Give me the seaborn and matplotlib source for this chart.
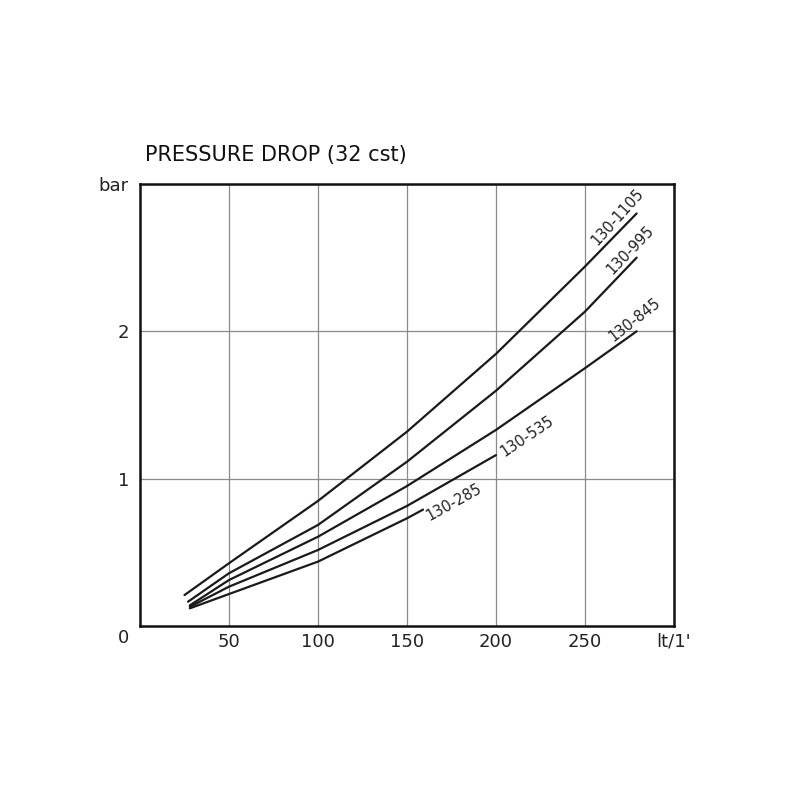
import matplotlib
matplotlib.use("Agg")
import matplotlib.pyplot as plt
import seaborn as sns

# flow (lt/1') and pressure drop (bar)
flow_1105 = [25, 50, 100, 150, 200, 250, 279]
bar_1105 = [0.21, 0.426, 0.849, 1.319, 1.847, 2.44, 2.80]

flow_995 = [27, 50, 100, 150, 200, 250, 279]
bar_995 = [0.165, 0.358, 0.686, 1.115, 1.597, 2.134, 2.50]

flow_845 = [28, 50, 100, 150, 200, 250, 279]
bar_845 = [0.14, 0.312, 0.606, 0.950, 1.331, 1.75, 2.00]

flow_535 = [28, 50, 100, 150, 200]
bar_535 = [0.13, 0.267, 0.516, 0.815, 1.16]

flow_285 = [28, 50, 100, 150, 159]
bar_285 = [0.12, 0.217, 0.437, 0.731, 0.79]

series_names = ["130-1105", "130-995", "130-845", "130-535", "130-285"]
label_pos = [(268.5, 2.78), (275.3, 2.55), (278, 2.08), (217.4, 1.29), (176.4, 0.84)]
label_rot = [48, 46, 38, 34, 29]

x_ticks = [50, 100, 150, 200, 250, 300]
x_labels = ["50", "100", "150", "200", "250", "lt/1'"]
y_ticks = [1, 2, 3]
y_labels = ["1", "2", "bar"]

sns.set_theme(style="whitegrid")
plt.rcParams["font.family"] = ["DejaVu Sans"]

fig = plt.figure(figsize=(8, 8), dpi=100)
ax = fig.add_axes([0.175, 0.2175, 0.6675, 0.5525])

all_series = [(flow_1105, bar_1105), (flow_995, bar_995), (flow_845, bar_845),
              (flow_535, bar_535), (flow_285, bar_285)]
for (xs, ys), name, pos, rot in zip(all_series, series_names, label_pos, label_rot):
    sns.lineplot(x=xs, y=ys, color="#1a1a1a", linewidth=1.6, ax=ax)
    ax.text(pos[0], pos[1], name, rotation=rot, ha="center", va="center",
            fontsize=10.5, color="#222222", rotation_mode="anchor")

ax.set_xlim(0, 300)
ax.set_ylim(0, 3)
ax.set_xticks(x_ticks)
ax.set_xticklabels(x_labels)
ax.set_yticks(y_ticks)
ax.set_yticklabels(y_labels)
ax.tick_params(axis="both", length=0, labelsize=13, labelcolor="#222222")
ax.tick_params(axis="x", pad=5)
ax.tick_params(axis="y", pad=8)
ax.grid(True, color="#8a8a8a", linewidth=0.9)
for spine in ax.spines.values():
    spine.set_color("#111111")
    spine.set_linewidth(1.8)
ax.set_facecolor("white")

ax.text(-9.5, -0.08, "0", ha="center", va="center", fontsize=13, color="#222222")

fig.text(0.181, 0.806, "PRESSURE DROP (32 cst)", fontsize=15, color="#111111",
         ha="left", va="center")

fig.savefig("out.png", dpi=100, facecolor="white")
